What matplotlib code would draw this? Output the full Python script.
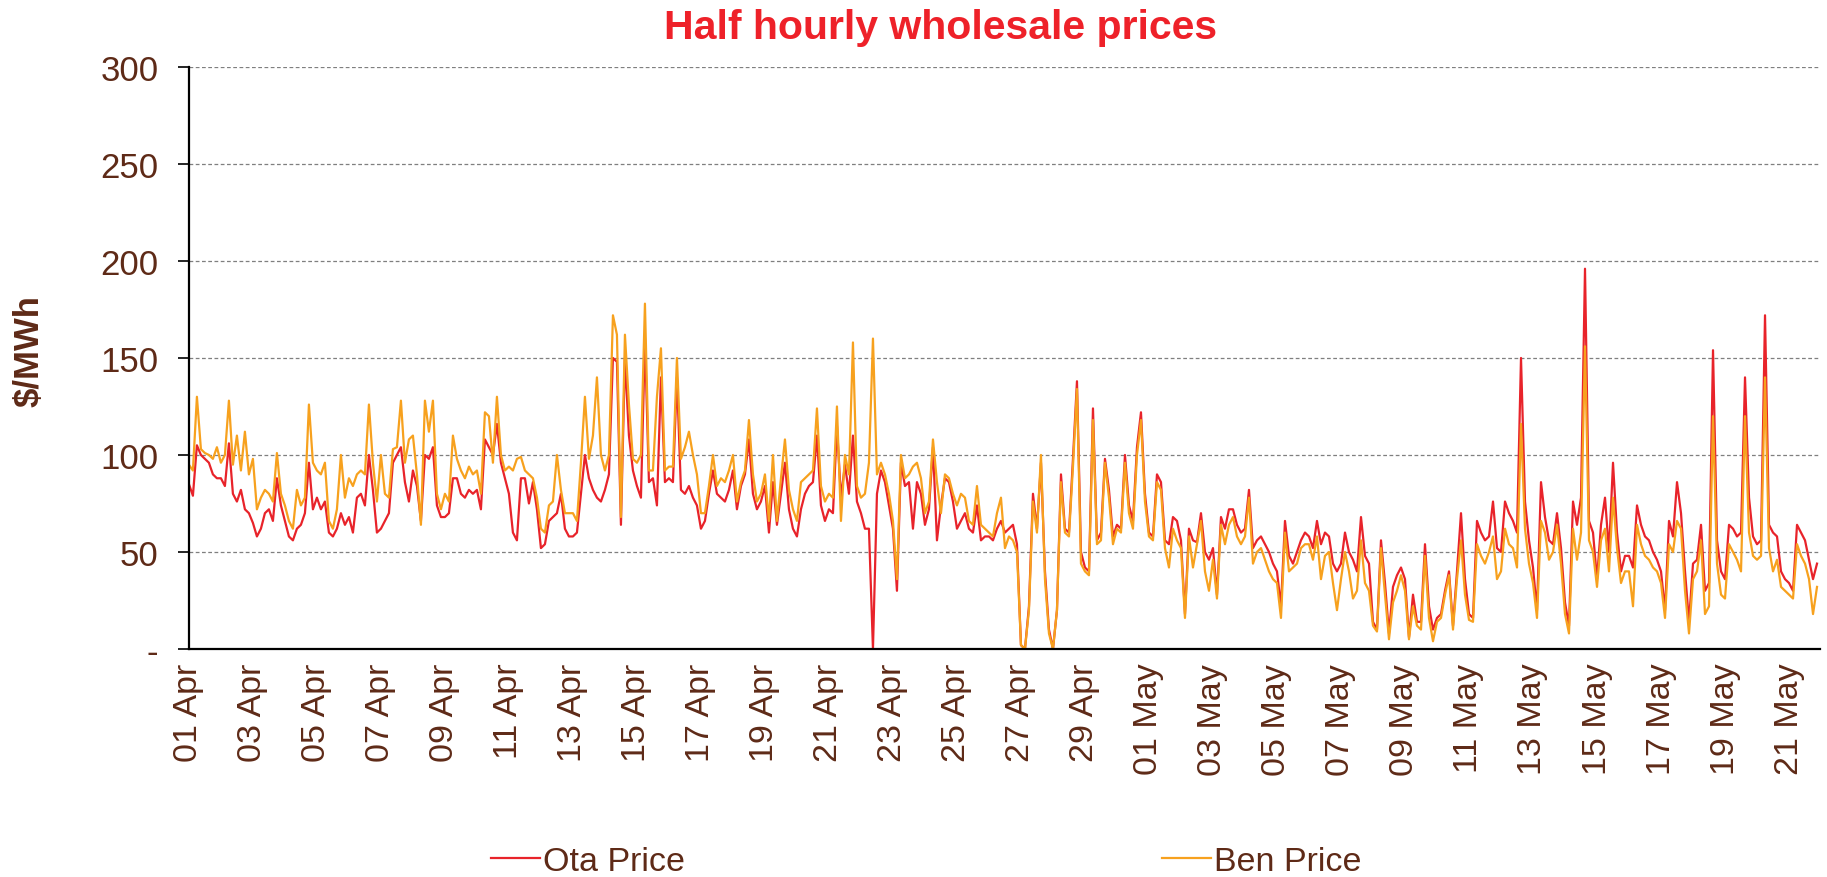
import matplotlib
matplotlib.use('Agg')
import matplotlib.pyplot as plt
import matplotlib.dates as mdates
from matplotlib import font_manager
import pandas as pd

OTA_COLOR = '#E8232A'
BEN_COLOR = '#F7A11E'
TEXT_COLOR = '#5E2A17'

# 3-hourly readings, one row per day starting 01 Apr
start = '2013-04-01 00:00'
step = '3h'

ota_price = [
    85, 79, 105, 100, 98, 96, 90, 88,
    88, 84, 106, 80, 76, 82, 72, 70,
    65, 58, 62, 70, 72, 66, 88, 74,
    66, 58, 56, 62, 64, 70, 96, 72,
    78, 72, 76, 60, 58, 62, 70, 64,
    68, 60, 78, 80, 74, 100, 82, 60,
    62, 66, 70, 96, 100, 104, 86, 76,
    92, 84, 66, 100, 98, 104, 74, 68,
    68, 70, 88, 88, 80, 78, 82, 80,
    82, 72, 108, 104, 100, 116, 96, 88,
    80, 60, 56, 88, 88, 75, 86, 72,
    52, 54, 66, 68, 70, 80, 62, 58,
    58, 60, 80, 100, 88, 82, 78, 76,
    82, 90, 150, 148, 64, 150, 110, 92,
    84, 78, 160, 86, 88, 74, 140, 86,
    88, 86, 140, 82, 80, 84, 78, 74,
    62, 66, 80, 92, 80, 78, 76, 82,
    92, 72, 84, 90, 108, 80, 72, 76,
    84, 60, 86, 64, 80, 96, 72, 62,
    58, 72, 80, 84, 86, 110, 74, 66,
    72, 70, 115, 78, 95, 80, 110, 76,
    70, 62, 62, 0, 80, 92, 86, 74,
    62, 30, 96, 84, 86, 62, 86, 80,
    64, 72, 104, 56, 74, 88, 86, 76,
    62, 66, 70, 62, 60, 74, 56, 58,
    58, 56, 62, 66, 60, 62, 64, 54,
    2, 0, 22, 80, 62, 96, 40, 10,
    0, 20, 90, 62, 60, 98, 138, 50,
    42, 40, 124, 56, 60, 98, 82, 58,
    64, 62, 100, 74, 66, 104, 122, 80,
    60, 58, 90, 86, 56, 54, 68, 66,
    56, 18, 62, 56, 55, 70, 50, 46,
    52, 28, 68, 62, 72, 72, 64, 60,
    62, 82, 52, 56, 58, 54, 50, 44,
    40, 22, 66, 48, 44, 50, 56, 60,
    58, 52, 66, 54, 60, 58, 44, 40,
    44, 60, 50, 46, 40, 68, 48, 44,
    14, 10, 56, 34, 8, 32, 38, 42,
    36, 6, 28, 14, 14, 54, 22, 10,
    16, 18, 30, 40, 12, 40, 70, 36,
    18, 16, 66, 60, 56, 58, 76, 52,
    50, 76, 70, 66, 60, 150, 76, 56,
    42, 20, 86, 68, 56, 54, 70, 52,
    24, 12, 76, 64, 78, 196, 66, 60,
    36, 64, 78, 50, 96, 60, 40, 48,
    48, 42, 74, 64, 58, 56, 50, 46,
    40, 20, 66, 58, 86, 70, 40, 14,
    44, 46, 64, 30, 34, 154, 56, 40,
    36, 64, 62, 58, 60, 140, 78, 58,
    54, 56, 172, 64, 60, 58, 40, 36,
    34, 30, 64, 60, 56, 46, 36, 44,
]

ben_price = [
    95, 92, 130, 103, 101, 100, 98, 104,
    96, 100, 128, 95, 110, 92, 112, 90,
    98, 72, 78, 82, 80, 76, 101, 80,
    74, 66, 62, 82, 74, 78, 126, 96,
    92, 90, 96, 66, 62, 72, 100, 78,
    88, 84, 90, 92, 90, 126, 96, 76,
    100, 80, 78, 103, 104, 128, 96, 108,
    110, 90, 64, 128, 112, 128, 80, 72,
    80, 76, 110, 98, 92, 88, 94, 90,
    92, 80, 122, 120, 96, 130, 100, 92,
    94, 92, 98, 99, 92, 90, 88, 78,
    62, 60, 74, 76, 100, 82, 70, 70,
    70, 66, 96, 130, 98, 110, 140, 100,
    92, 100, 172, 162, 68, 162, 126, 98,
    96, 100, 178, 92, 92, 130, 155, 92,
    94, 94, 150, 98, 104, 112, 100, 90,
    70, 70, 84, 100, 84, 88, 86, 92,
    100, 76, 86, 92, 118, 90, 76, 80,
    90, 66, 100, 66, 88, 108, 82, 72,
    66, 86, 88, 90, 92, 124, 84, 76,
    80, 78, 125, 66, 100, 90, 158, 84,
    78, 80, 96, 160, 90, 96, 90, 80,
    66, 36, 100, 88, 90, 94, 96, 88,
    70, 76, 108, 86, 70, 90, 88, 80,
    74, 80, 78, 66, 64, 84, 64, 62,
    60, 58, 70, 78, 52, 58, 56, 50,
    2, 0, 20, 76, 60, 100, 36, 8,
    0, 20, 86, 60, 58, 94, 134, 44,
    40, 38, 118, 54, 56, 96, 78, 54,
    62, 60, 96, 70, 62, 100, 118, 76,
    58, 56, 86, 82, 52, 42, 62, 56,
    52, 16, 58, 42, 54, 66, 40, 30,
    46, 26, 64, 54, 64, 68, 58, 54,
    58, 78, 44, 50, 52, 46, 40, 36,
    34, 16, 60, 40, 42, 44, 52, 54,
    54, 46, 58, 36, 48, 50, 34, 20,
    36, 50, 40, 26, 30, 56, 34, 30,
    12, 9, 52, 28, 5, 24, 30, 38,
    30, 5, 22, 12, 10, 48, 16, 4,
    14, 16, 28, 38, 10, 36, 56, 28,
    15, 14, 54, 48, 44, 50, 58, 36,
    40, 62, 54, 52, 42, 116, 62, 44,
    34, 16, 66, 60, 46, 50, 64, 44,
    18, 8, 62, 46, 60, 156, 56, 50,
    32, 56, 62, 40, 78, 52, 34, 40,
    40, 22, 64, 54, 48, 46, 42, 40,
    34, 16, 54, 50, 66, 62, 30, 8,
    36, 40, 56, 18, 22, 120, 44, 28,
    26, 54, 50, 46, 40, 120, 60, 48,
    46, 48, 140, 52, 40, 46, 32, 30,
    28, 26, 54, 48, 44, 36, 18, 32,
]

y_ticks = [0, 50, 100, 150, 200, 250, 300]
y_tick_labels = ['-', '50', '100', '150', '200', '250', '300']

installed = {f.name for f in font_manager.fontManager.ttflist}
plt.rcParams['font.family'] = ['Liberation Sans', 'DejaVu Sans']

times = pd.date_range(start, periods=len(ota_price), freq=step)

fig = plt.figure(figsize=(18.27, 8.78), dpi=100)
ax = fig.add_axes([0.1034, 0.2597, 0.8928, 0.6629])

ax.plot(times, ota_price, color=OTA_COLOR, linewidth=1.6, label='Ota Price')
ax.plot(times, ben_price, color=BEN_COLOR, linewidth=1.6, label='Ben Price')

ax.set_ylim(0, 300)
ax.set_xlim(pd.Timestamp(start), pd.Timestamp(start) + pd.Timedelta(days=50.97))
ax.set_yticks(y_ticks)
ax.set_yticklabels(y_tick_labels)
ax.yaxis.grid(True, linestyle=(0, (3, 2)), color='#7f7f7f', linewidth=0.9)
ax.set_axisbelow(True)

ax.xaxis.set_major_locator(mdates.DayLocator(bymonthday=range(1, 32, 2)))
ax.xaxis.set_major_formatter(mdates.DateFormatter('%d %b'))

ax.tick_params(axis='y', direction='out', length=8, width=1.2, color='black',
               labelsize=25, labelcolor=TEXT_COLOR, pad=14)
ax.tick_params(axis='x', length=0, labelsize=24.5, labelcolor=TEXT_COLOR,
               pad=10, labelrotation=90)

for side in ['top', 'right']:
    ax.spines[side].set_visible(False)
ax.spines['left'].set_linewidth(1.6)
ax.spines['bottom'].set_linewidth(1.6)

if 'Liberation Sans Narrow' in installed:
    ylab_font, ylab_size = 'Liberation Sans Narrow', 29
else:
    ylab_font, ylab_size = 'Liberation Sans', 25
fig.text(0.016, 0.60, '$/MWh', rotation=90, ha='center', va='center',
         fontsize=ylab_size, fontweight='bold', color=TEXT_COLOR,
         family=[ylab_font, 'DejaVu Sans'])

fig.text(0.515, 0.968, 'Half hourly wholesale prices', ha='center', va='center',
         fontsize=29.5, fontweight='bold', color='#EE2129')

fig.legend(loc='center', bbox_to_anchor=(0.507, 0.018), ncol=2, frameon=False,
           fontsize=24.5, labelcolor=TEXT_COLOR, handlelength=1.45,
           handletextpad=0.1, columnspacing=14.0)

fig.savefig('out.png', dpi=100)
print('saved out.png')
